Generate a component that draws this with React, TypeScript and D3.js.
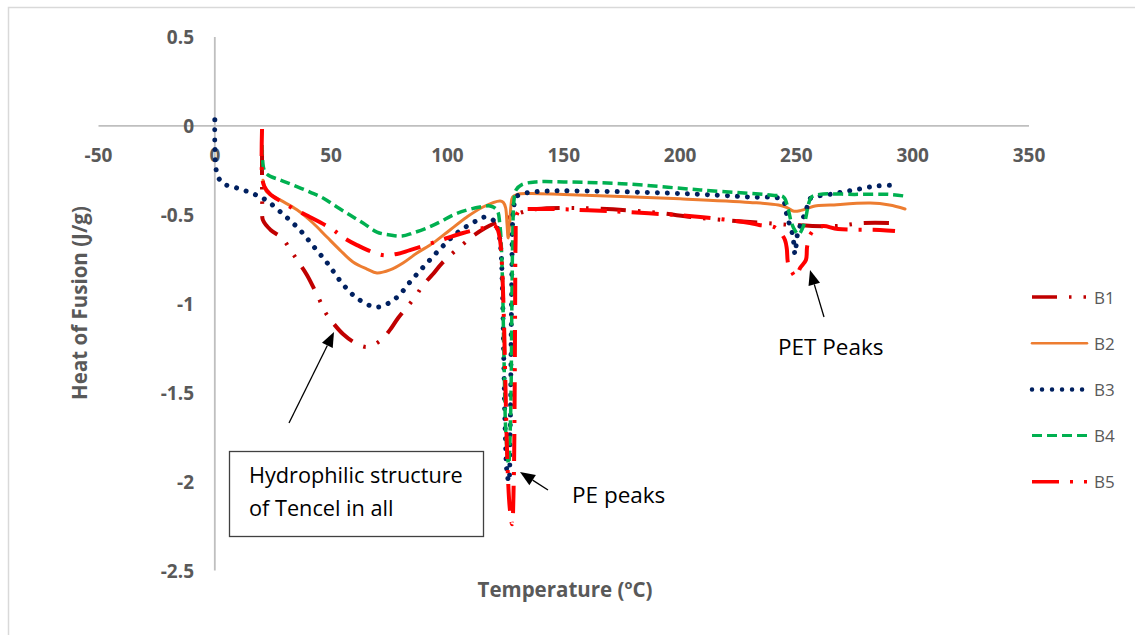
import React from "react";
import * as d3 from "d3";

type Pt = [number, number];

const xTicks = [-50, 0, 50, 100, 150, 200, 250, 300, 350];
const yTicks = [0.5, 0, -0.5, -1, -1.5, -2, -2.5];

const seriesNames = ["B1", "B2", "B3", "B4", "B5"];

const B1: Pt[] = [
  [20.3, -0.135], [20.3, -0.36], [20.4, -0.445], [20.7, -0.53], [24, -0.585], [28.9, -0.63],
  [32.8, -0.703], [36.2, -0.77], [39.6, -0.838], [44.8, -0.973], [47.4, -1.046], [51.2, -1.114],
  [55.1, -1.17], [60.3, -1.22], [65.4, -1.243], [71.0, -1.209], [75.3, -1.147], [78.8, -1.08],
  [86.1, -0.962], [89.5, -0.895], [93.8, -0.833], [97.7, -0.771], [106.3, -0.67], [111.0, -0.619],
  [116.2, -0.574], [120.5, -0.546], [126.9, -0.512], [132.5, -0.484], [138.5, -0.467], [157, -0.462],
  [187, -0.484], [208.7, -0.518], [236.6, -0.546], [248.2, -0.557], [266.6, -0.563], [278.7, -0.546],
  [291.6, -0.546],
];

const B2: Pt[] = [
  [20.7, -0.305], [21.6, -0.35], [22.4, -0.372], [28.0, -0.416], [35.3, -0.472], [42.2, -0.546],
  [48.2, -0.625], [53.8, -0.698], [59.4, -0.765], [65.4, -0.805], [69.7, -0.827], [75.3, -0.81],
  [80.9, -0.771], [86.9, -0.715], [93.8, -0.659], [101.1, -0.585], [108.4, -0.512], [115.3, -0.456],
  [122.6, -0.422], [124, -0.43], [125, -0.46], [125.6, -0.55], [126.1, -0.63], [126.7, -0.56],
  [127.3, -0.45], [128, -0.4], [130, -0.385], [135, -0.38], [150, -0.385], [200, -0.41],
  [230, -0.43], [242.3, -0.445], [246, -0.46], [249, -0.48], [252, -0.475], [255, -0.463],
  [258, -0.45], [264.5, -0.445], [281.7, -0.434], [290, -0.445], [296.7, -0.467],
];

const B3: Pt[] = [
  [0, 0.035], [0, -0.1], [0.5, -0.24], [1.5, -0.29], [4.0, -0.327], [8.5, -0.345], [13.4, -0.366],
  [18, -0.39], [22.0, -0.417], [29.3, -0.496], [36.2, -0.58], [42.6, -0.68], [48.7, -0.777],
  [54.3, -0.878], [61.1, -0.968], [69.7, -1.019], [77.9, -0.968], [84.3, -0.872], [90.8, -0.777],
  [97.2, -0.687], [104.1, -0.602], [112.3, -0.535], [116.6, -0.512], [120.5, -0.54], [122, -0.6],
  [123, -0.7], [123.6, -0.9], [124.2, -1.3], [124.8, -1.7], [125.6, -1.95], [126.4, -2.0],
  [127, -1.7], [127.4, -1.2], [127.7, -0.8], [128, -0.55], [128.5, -0.46], [129.5, -0.4],
  [133, -0.38], [138, -0.37], [150, -0.365], [200, -0.38], [230, -0.4], [244, -0.415],
  [245.5, -0.48], [246.6, -0.535], [248, -0.59], [248.8, -0.65], [249.4, -0.72], [250.6, -0.6],
  [252, -0.55], [253.4, -0.5], [254.5, -0.46], [255.8, -0.41], [265.3, -0.383], [274.8, -0.36],
  [284.7, -0.338], [294.1, -0.333],
];

const B4: Pt[] = [
  [20.3, -0.108], [21.2, -0.248], [22.9, -0.276], [28.0, -0.304], [33.6, -0.332], [40.9, -0.372],
  [46.5, -0.405], [52.5, -0.456], [58.1, -0.501], [63.7, -0.546], [69.7, -0.597], [75.3, -0.613],
  [80.5, -0.619], [85.2, -0.602], [91.2, -0.574], [96.8, -0.54], [102.4, -0.501], [108.4, -0.473],
  [114.0, -0.456], [118.3, -0.45], [121.3, -0.473], [122.5, -0.55], [123.5, -0.8], [124.3, -1.3],
  [125.2, -1.75], [126.3, -1.9], [127.2, -1.6], [127.7, -1.0], [128.1, -0.6], [128.6, -0.42],
  [129.5, -0.36], [132, -0.33], [138, -0.315], [150, -0.315], [175, -0.325], [208.7, -0.36],
  [239.6, -0.39], [244.5, -0.4], [246.5, -0.47], [248, -0.55], [249.5, -0.59], [251, -0.61],
  [252.5, -0.58], [254, -0.52], [255.2, -0.44], [256.5, -0.4], [260, -0.385], [275, -0.385],
  [290, -0.385], [296.7, -0.395],
];

const B5: Pt[] = [
  [20.3, -0.017], [20.3, -0.276], [21.2, -0.338], [23.7, -0.383], [28.9, -0.428], [34.9, -0.473],
  [40.1, -0.507], [50.4, -0.58], [55.5, -0.63], [61.1, -0.67], [71.9, -0.726], [78.3, -0.72],
  [83.9, -0.698], [94.7, -0.653], [106.7, -0.602], [117.4, -0.568], [120, -0.56], [121.5, -0.58],
  [122.7, -0.65], [123.5, -0.8], [124.3, -1.1], [125, -1.5], [125.8, -1.9], [126.8, -2.15],
  [127.8, -2.24], [128.5, -2.0], [128.9, -1.5], [129.1, -1.0], [129.3, -0.65], [129.8, -0.5],
  [131, -0.475], [138.5, -0.467], [170, -0.48], [208.7, -0.512], [230, -0.546], [234, -0.557],
  [240.3, -0.568], [242.9, -0.597], [245.1, -0.641], [245.9, -0.692], [246.4, -0.771],
  [248.1, -0.822], [249.8, -0.85], [251.6, -0.799], [254.1, -0.754], [254.6, -0.681],
  [255.9, -0.614], [258.0, -0.58], [261.5, -0.563], [267.9, -0.58], [285.9, -0.585], [292.4, -0.591],
];

const seriesData: Pt[][] = [B1, B2, B3, B4, B5];

const styles = [
  { color: "#C00000", width: 4, dash: "25 12 2.5 12 2.5 12", cap: "butt" },
  { color: "#ED7D31", width: 3, dash: "", cap: "round" },
  { color: "#002060", width: 5, dash: "0.01 10", cap: "round" },
  { color: "#00B050", width: 3.5, dash: "10 5", cap: "butt" },
  { color: "#FF0000", width: 4, dash: "27 11 3 11", cap: "butt" },
];

const W = 1135;
const H = 635;

export default function App() {
  const x = d3.scaleLinear().domain([-50, 350]).range([98.5, 1029]);
  const y = d3.scaleLinear().domain([-2.5, 0.5]).range([570.5, 37]);
  const line = d3
    .line<Pt>()
    .x((d) => x(d[0]))
    .y((d) => y(d[1]))
    .curve(d3.curveCatmullRom.alpha(0.5));

  const tickFont = { fontFamily: "'Open Sans', sans-serif", fontWeight: 700, fontSize: 19, fill: "#595959" };
  const annFont = { fontFamily: "'Open Sans', sans-serif", fontSize: 21.7, fill: "#000" };

  const arrow = (x1: number, y1: number, x2: number, y2: number, key: string) => {
    const ang = Math.atan2(y2 - y1, x2 - x1);
    const L = 15, Wd = 6;
    const bx = x2 - L * Math.cos(ang), by = y2 - L * Math.sin(ang);
    const px = -Math.sin(ang) * Wd, py = Math.cos(ang) * Wd;
    return (
      <g key={key}>
        <line x1={x1} y1={y1} x2={bx} y2={by} stroke="#000" strokeWidth={1.3} />
        <polygon points={`${x2},${y2} ${bx + px},${by + py} ${bx - px},${by - py}`} fill="#000" />
      </g>
    );
  };

  return (
    <svg width={W} height={H} style={{ position: "absolute", left: 0, top: 0, background: "#fff" }}>
      <rect x={8.5} y={7.5} width={1140} height={640} fill="#fff" stroke="#D9D9D9" strokeWidth={1.5} />
      {/* axes */}
      <line x1={x(-50)} x2={x(350)} y1={y(0)} y2={y(0)} stroke="#BFBFBF" strokeWidth={1.8} />
      <line x1={x(0)} x2={x(0)} y1={y(0.5)} y2={y(-2.5)} stroke="#BFBFBF" strokeWidth={1.8} />
      {xTicks.map((t) => (
        <text key={"xt" + t} x={x(t)} y={162} textAnchor="middle" {...tickFont}>
          {t}
        </text>
      ))}
      {yTicks.map((t) => (
        <text key={"yt" + t} x={194} y={y(t)} textAnchor="end" dominantBaseline="central" {...tickFont}>
          {t}
        </text>
      ))}
      {/* series */}
      {seriesData.map((d, i) => (
        <path
          key={seriesNames[i]}
          d={line(d) || ""}
          fill="none"
          stroke={styles[i].color}
          strokeWidth={styles[i].width}
          strokeDasharray={styles[i].dash || undefined}
          strokeLinecap={styles[i].cap as any}
          strokeLinejoin="round"
        />
      ))}
      {/* titles */}
      <text
        x={565}
        y={597}
        textAnchor="middle"
        fontFamily="'Open Sans', sans-serif"
        fontWeight={700}
        fontSize={20.5}
        fill="#595959"
      >
        Temperature (ºC)
      </text>
      <text
        transform="translate(87,303) rotate(-90)"
        textAnchor="middle"
        fontFamily="'Open Sans', sans-serif"
        fontWeight={700}
        fontSize={20.5}
        fill="#595959"
      >
        Heat of Fusion (J/g)
      </text>
      {/* legend */}
      {seriesNames.map((n, i) => {
        const ly = 297 + i * 46.2;
        return (
          <g key={"lg" + n}>
            <line
              x1={1032}
              x2={1087}
              y1={ly}
              y2={ly}
              stroke={styles[i].color}
              strokeWidth={styles[i].width - 0.5}
              strokeDasharray={styles[i].dash || undefined}
              strokeLinecap={styles[i].cap as any}
            />
            <text
              x={1094}
              y={ly}
              dominantBaseline="central"
              fontFamily="'Open Sans', sans-serif"
              fontSize={17}
              fill="#595959"
            >
              {n}
            </text>
          </g>
        );
      })}
      {/* annotations */}
      <rect x={229.5} y={451.5} width={254} height={85} fill="#fff" stroke="#404040" strokeWidth={1.3} />
      <text x={249} y={483} {...annFont}>Hydrophilic structure</text>
      <text x={249} y={516} {...annFont}>of Tencel in all</text>
      <text x={572} y={503} fontSize={22.5} fontFamily="'Open Sans', sans-serif" fill="#000">PE peaks</text>
      <text x={778} y={355} fontSize={22.5} fontFamily="'Open Sans', sans-serif" fill="#000">PET Peaks</text>
      {arrow(289, 423, 334, 332, "a1")}
      {arrow(548, 490, 520, 472, "a2")}
      {arrow(824, 317, 810, 270, "a3")}
    </svg>
  );
}
